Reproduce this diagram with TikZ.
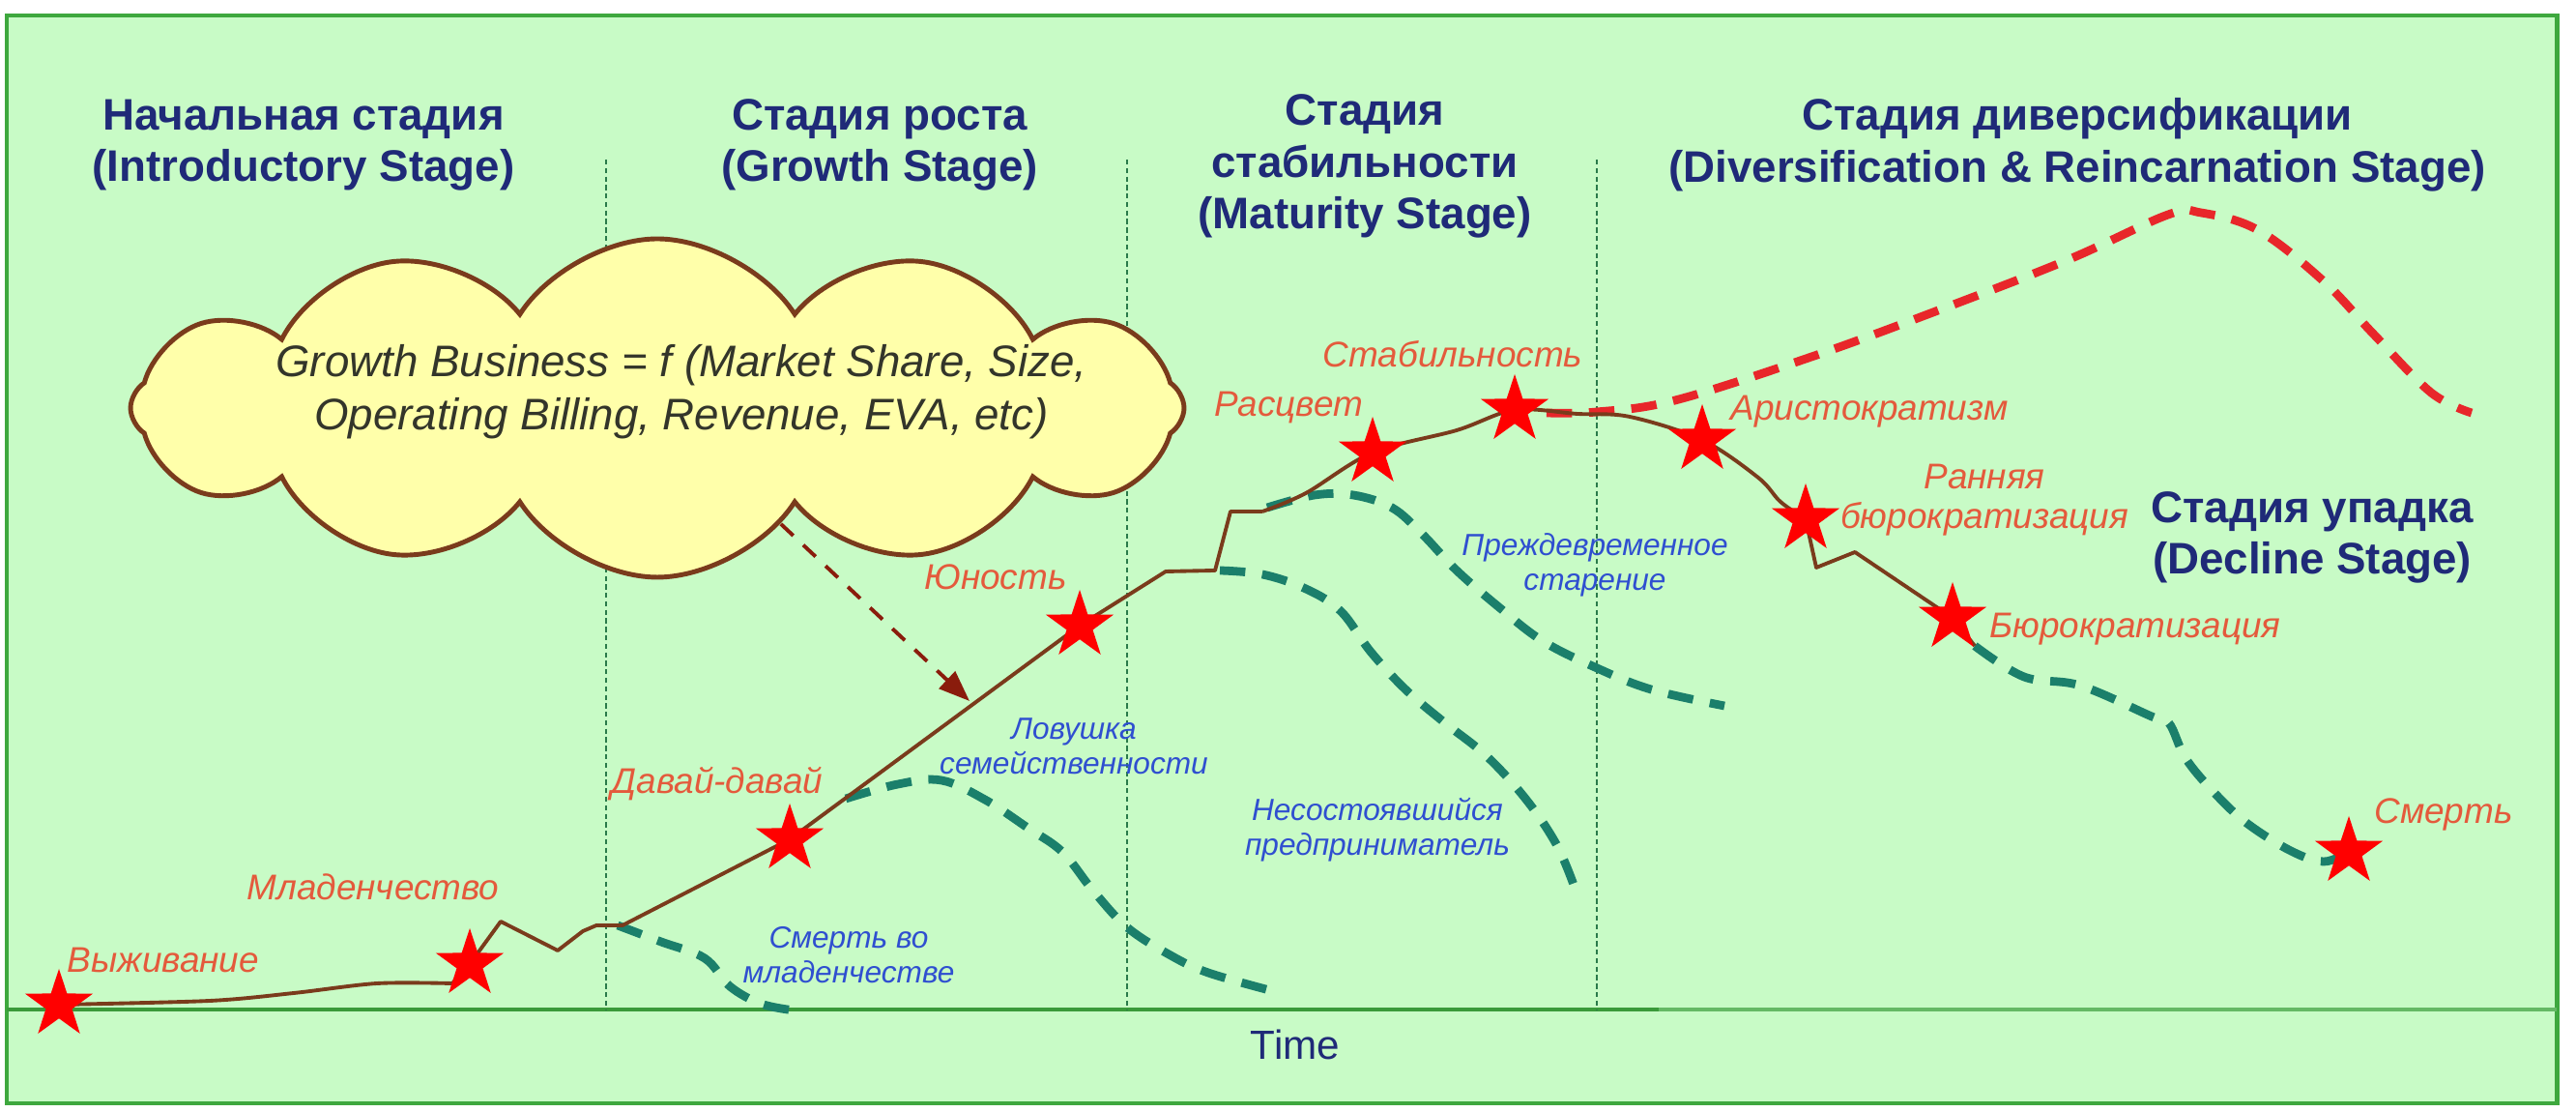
\documentclass[tikz,border=0pt]{standalone}
\usepackage{fontspec}
\setmainfont{Liberation Sans}
\usetikzlibrary{arrows.meta,shapes.geometric,shapes.symbols}
\definecolor{meadow}{HTML}{C8FBC6}
\definecolor{frame}{HTML}{3EA83E}
\definecolor{axis}{HTML}{3A9A3A}
\definecolor{pine}{HTML}{2A7A4A}
\definecolor{navy}{HTML}{1F2A78}
\definecolor{flame}{HTML}{E45A3C}
\definecolor{azure}{HTML}{2F4FD0}
\definecolor{bark}{HTML}{7A3B1C}
\definecolor{sea}{HTML}{1B7F6B}
\definecolor{scarlet}{HTML}{E8262A}
\definecolor{cream}{HTML}{FFFFAA}
\definecolor{soot}{HTML}{33352A}
\definecolor{rust}{HTML}{8A1C0C}

\begin{document}
\begin{tikzpicture}[x=1cm,y=1cm,>=Latex,
  stage/.style={font=\bfseries\fontsize{13}{15.2}\selectfont,text=navy,align=center},
  milestone/.style={font=\itshape\fontsize{10.5}{11.5}\selectfont,text=flame,align=center},
  pitfall/.style={font=\itshape\fontsize{9}{10.2}\selectfont,text=azure,align=center},
  redstar/.style={star,star points=5,star point ratio=2.6,fill=red,draw=none,inner sep=0pt,minimum size=0.74cm},
  lifeline/.style={bark,line width=1.1pt,line join=round},
  fallpath/.style={sea,line width=2.5pt,dash pattern=on 7.5pt off 5pt},
  risepath/.style={scarlet,line width=2.5pt,dash pattern=on 7.5pt off 5pt},
  divider/.style={pine,line width=0.8pt,dash pattern=on 1.5pt off 1pt}]
  \useasboundingbox (0,0) rectangle (26.65,11.5);
  \draw[frame,line width=1.4pt,fill=meadow] (0.07,0.09) rectangle (26.45,11.34);
  \draw[frame!80,line width=1.4pt] (0.07,1.06) -- (26.45,1.06);
  \draw[axis,line width=1.4pt] (0.07,1.06) -- (17.16,1.06);
  \foreach \x in {6.27,11.66,16.52} \draw[divider] (\x,9.85) -- (\x,1.06);

  \node[stage] (intro) at (3.14,10.0) {Начальная стадия\\(Introductory Stage)};
  \node[stage] (growth) at (9.10,10.0) {Стадия роста\\(Growth Stage)};
  \node[stage] (mature) at (14.12,9.78) {Стадия\\стабильности\\(Maturity Stage)};
  \node[stage] (diverse) at (21.49,10.0) {Стадия диверсификации\\(Diversification \& Reincarnation Stage)};
  \node[stage] (decline) at (23.92,5.94) {Стадия упадка\\(Decline Stage)};
  \node[font=\fontsize{12}{14}\selectfont,text=navy] (time) at (13.40,0.70) {Time};

  \node[cloud,cloud puffs=12,cloud puff arc=115,aspect=3.1,draw=bark,line width=1.4pt,fill=cream,minimum width=10.9cm,minimum height=3.5cm,inner sep=0pt] (bubble) at (6.80,7.28) {};
  \node[font=\itshape\fontsize{13}{15.5}\selectfont,text=soot,align=center] (formula) at (7.05,7.45) {Growth Business = f (Market Share, Size,\\Operating Billing, Revenue, EVA, etc)};
  \coordinate (trap) at (10.03,4.25);
  \draw[-{Triangle[length=0.32cm,width=0.24cm,fill=rust]},rust,line width=1.1pt,dash pattern=on 5pt off 4pt] (bubble) -- (trap);

  \coordinate (p1) at (0.61,1.11);
  \coordinate (p2) at (4.86,1.53);
  \coordinate (p3) at (8.17,2.82);
  \coordinate (p4) at (11.17,5.03);
  \coordinate (p5) at (14.20,6.82);
  \coordinate (p6) at (15.67,7.26);
  \coordinate (p7) at (17.61,6.95);
  \coordinate (p8) at (18.68,6.13);
  \coordinate (p9) at (20.20,5.11);
  \coordinate (p10) at (24.30,2.69);

  \draw[fallpath] plot[smooth,tension=0.6] coordinates {(6.39,1.93) (6.84,1.76) (7.29,1.59) (7.55,1.30) (7.87,1.12) (8.22,1.05)};
  \draw[fallpath] plot[smooth,tension=0.6] coordinates {(8.75,3.24) (9.29,3.39) (9.74,3.43) (10.19,3.23) (10.63,2.94) (10.99,2.69) (11.30,2.30) (11.66,1.91) (12.11,1.62) (12.50,1.44) (13.17,1.25)};
  \draw[fallpath] plot[smooth,tension=0.6] coordinates {(12.62,5.60) (13.06,5.56) (13.51,5.41) (13.87,5.18) (14.18,4.76) (14.54,4.37) (14.94,4.03) (15.38,3.68) (15.79,3.23) (16.10,2.77) (16.28,2.35)};
  \draw[fallpath] plot[smooth,tension=0.6] coordinates {(13.11,6.25) (13.60,6.38) (14.00,6.38) (14.40,6.25) (14.71,5.98) (15.07,5.60) (15.52,5.21) (15.96,4.87) (16.50,4.60) (17.08,4.37) (17.84,4.20)};
  \draw[fallpath] plot[smooth,tension=0.6] coordinates {(20.43,4.82) (20.94,4.50) (21.52,4.41) (22.26,4.09) (22.44,4.02) (22.61,3.66) (22.90,3.31) (23.24,2.99) (23.70,2.70) (24.04,2.59) (p10)};
  \draw[risepath] plot[smooth,tension=0.6] coordinates {(16.0,7.23) (16.52,7.24) (17.33,7.36) (18.77,7.82) (20.13,8.32) (21.41,8.82) (22.43,9.28) (22.77,9.30) (23.36,9.12) (24.04,8.59) (24.55,8.05) (25.15,7.44) (25.57,7.23)};

  \draw[lifeline] plot[smooth,tension=0.5] coordinates {(p1) (2.17,1.15) (3.04,1.23) (3.90,1.33) (4.68,1.33)} -- (p2);
  \draw[lifeline] (p2) -- (5.18,1.97) -- (5.77,1.67) -- (6.03,1.87) -- (6.17,1.93) -- (6.44,1.93) -- (p3) -- (p4) -- (12.06,5.59) -- (12.57,5.60) -- (12.73,6.21) -- (13.06,6.21);
  \draw[lifeline] plot[smooth,tension=0.55] coordinates {(13.06,6.21) (13.51,6.40) (p5) (15.07,7.05) (p6) (16.32,7.22) (16.86,7.19) (p7) (18.19,6.56) (18.42,6.31) (p8)};
  \draw[lifeline] (p8) -- (18.79,5.63) -- (19.19,5.79) -- (p9) -- (20.43,4.82);

  \foreach \i in {1,...,10} \node[redstar] (s\i) at (p\i) {};

  \node[milestone] (survive) at (1.69,1.57) {Выживание};
  \node[milestone] (infancy) at (3.86,2.33) {Младенчество};
  \node[milestone] (gogo) at (7.42,3.39) {Давай-давай};
  \node[milestone] (youth) at (10.30,5.53) {Юность};
  \node[milestone] (prime) at (13.33,7.28) {Расцвет};
  \node[milestone] (stable) at (15.03,7.84) {Стабильность};
  \node[milestone] (aristo) at (19.34,7.24) {Аристократизм};
  \node[milestone] (earlybur) at (20.53,6.33) {Ранняя\\бюрократизация};
  \node[milestone] (bureau) at (22.09,4.99) {Бюрократизация};
  \node[milestone] (death) at (25.28,3.08) {Смерть};

  \node[pitfall] (infdeath) at (8.78,1.62) {Смерть во\\младенчестве};
  \node[pitfall] (family) at (11.11,3.78) {Ловушка\\семейственности};
  \node[pitfall] (founder) at (14.25,2.92) {Несостоявшийся\\предприниматель};
  \node[pitfall] (aging) at (16.50,5.66) {Преждевременное\\старение};
\end{tikzpicture}
\end{document}
